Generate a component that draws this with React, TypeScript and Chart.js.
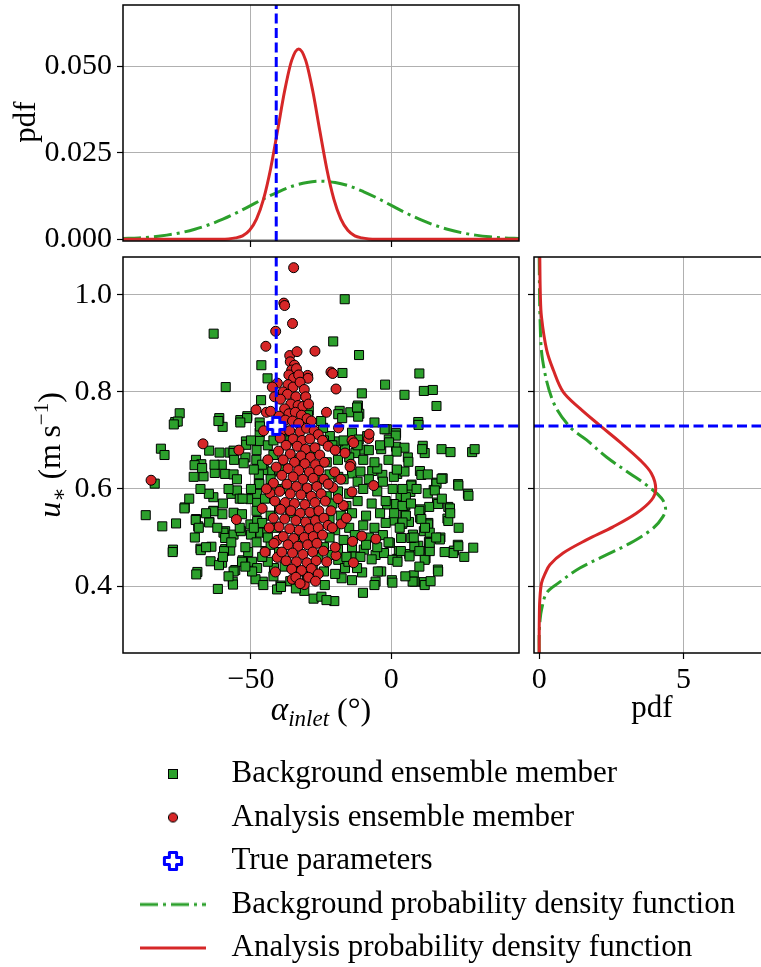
import React, { useEffect, useRef } from 'react';
import { Chart, registerables } from 'chart.js';
Chart.register(...registerables);

const FONT = '"Liberation Serif", "DejaVu Serif", serif';
const GREEN = '#2ca02c';
const RED = '#d62728';
const BLUE = '#0000ff';
const GRID = '#b0b0b0';

// ---------- axis ticks / ranges ----------
const alphaTicks = [-50, 0];
const ustarTicks = [0.4, 0.6, 0.8, 1.0];
const pdfAlphaTicks = [0, 0.025, 0.05];
const pdfUstarTicks = [0, 5];
const alphaRange = [-95.6, 45.5];
const ustarRange = [0.262, 1.078];
const pdfAlphaRange = [-0.0005, 0.0677];
const pdfUstarRange = [-0.18, 8.0];

// ---------- true parameters ----------
const trueAlpha = -41;
const trueUstar = 0.73;

// ---------- marginal pdf of alpha_inlet ----------
const bgAlphaGrid = [-95.6, -90, -85, -80, -75, -70, -65, -60, -55, -50, -45, -40, -35, -30, -25, -20, -15, -10, -5, 0, 5, 10, 15, 20, 25, 30, 35, 40, 45.5];
const bgPdfAlpha = [0.0002, 0.0004, 0.0007, 0.0012, 0.0019, 0.0029, 0.0042, 0.0058, 0.0077, 0.0098, 0.0119, 0.0138, 0.0154, 0.0164, 0.0168, 0.0164, 0.0154, 0.0138, 0.0119, 0.0098, 0.0077, 0.0058, 0.0042, 0.0029, 0.0019, 0.0012, 0.0007, 0.0004, 0.0002];
const anAlphaGrid = [-95.6, -75, -63, -60.5, -58, -55.5, -53, -50.5, -48, -45.5, -43, -40.5, -38, -35.5, -33, -30.5, -28, -25.5, -23, -20.5, -18, -15.5, -13, -10.5, -8, -5.5, -3, 15, 45.5];
const anPdfAlpha = [0, 0, 0, 0, 0.0001, 0.0004, 0.001, 0.0026, 0.0059, 0.0117, 0.0204, 0.0315, 0.0429, 0.0517, 0.055, 0.0517, 0.0429, 0.0315, 0.0204, 0.0117, 0.0059, 0.0026, 0.001, 0.0004, 0.0001, 0, 0, 0, 0];

// ---------- marginal pdf of u_* ----------
const bgUstarGrid = [0.262, 0.3, 0.33, 0.351, 0.386, 0.406, 0.437, 0.461, 0.488, 0.519, 0.543, 0.56, 0.581, 0.608, 0.632, 0.666, 0.701, 0.728, 0.779, 0.865, 0.95, 1.078];
const bgPdfUstar = [0, 0, 0.03, 0.08, 0.26, 0.66, 1.41, 2.22, 3.14, 3.95, 4.29, 4.38, 4.24, 3.72, 3.14, 2.33, 1.64, 1.06, 0.49, 0.12, 0.03, 0];
const anUstarGrid = [0.262, 0.3, 0.337, 0.37, 0.406, 0.425, 0.444, 0.468, 0.495, 0.522, 0.55, 0.577, 0.6, 0.632, 0.66, 0.697, 0.731, 0.766, 0.8, 0.845, 0.886, 0.954, 1.0, 1.078];
const anPdfUstar = [0, 0, 0.005, 0.02, 0.08, 0.2, 0.37, 0.83, 1.64, 2.56, 3.37, 3.89, 4.04, 3.89, 3.49, 2.79, 2.1, 1.41, 0.83, 0.49, 0.26, 0.08, 0.04, 0.02];

// ---------- ensemble members [alpha_inlet, u_*] ----------
const backgroundMembers: [number, number][] = [
  [-63.3, 0.92], [-59.0, 0.81], [-75.4, 0.756], [-77.0, 0.738], [-76.1, 0.739], [-61.3, 0.746], [-60.1, 0.728], [-53.8, 0.742], [-51.3, 0.75], [-51.8, 0.698],
  [-82.1, 0.683], [-80.8, 0.67], [-64.9, 0.679], [-61.2, 0.675], [-57.6, 0.675], [-56.2, 0.679], [-69.6, 0.66], [-52.0, 0.665], [-84.3, 0.611], [-67.7, 0.651],
  [-70.4, 0.625], [-66.9, 0.626], [-62.9, 0.633], [-59.2, 0.631], [-60.4, 0.65], [-87.5, 0.546], [-81.6, 0.523], [-76.7, 0.529], [-73.6, 0.562], [-69.6, 0.538],
  [-68.8, 0.523], [-64.8, 0.532], [-63.4, 0.583], [-63.4, 0.555], [-60.2, 0.548], [-77.8, 0.475], [-68.0, 0.477], [-64.1, 0.481], [-64.4, 0.451], [-60.3, 0.448],
  [-61.4, 0.443], [-69.1, 0.429], [-59.2, 0.476], [-57.4, 0.473], [-53.0, 0.453], [-55.6, 0.433], [-56.5, 0.409], [-61.8, 0.394], [-59.2, 0.513], [-58.2, 0.502],
  [-57.0, 0.59], [-55.0, 0.597], [-54.0, 0.58], [-16.6, 0.991], [-20.7, 0.904], [-11.5, 0.876], [-46.3, 0.855], [-44.1, 0.828], [-2.2, 0.815], [-10.5, 0.797],
  [-17.4, 0.839], [-46.4, 0.783], [-29.4, 0.761], [-18.4, 0.761], [-14.6, 0.758], [-11.9, 0.772], [-11.4, 0.755], [-46.9, 0.737], [-46.9, 0.716], [-46.9, 0.699],
  [-6.0, 0.737], [-3.6, 0.682], [-1.6, 0.723], [10.0, 0.838], [4.7, 0.794], [11.6, 0.802], [14.8, 0.804], [16.1, 0.771], [9.6, 0.738], [1.7, 0.715],
  [-0.9, 0.702], [1.7, 0.687], [4.7, 0.685], [11.2, 0.689], [11.9, 0.674], [17.9, 0.682], [21.1, 0.676], [28.8, 0.676], [29.7, 0.682], [5.9, 0.665],
  [2.1, 0.631], [4.7, 0.636], [0.9, 0.625], [10.2, 0.637], [18.3, 0.622], [16.0, 0.613], [15.1, 0.598], [13.0, 0.591], [23.8, 0.61], [27.3, 0.59],
  [7.2, 0.609], [6.8, 0.594], [3.3, 0.585], [5.0, 0.566], [0.9, 0.569], [-1.5, 0.568], [16.3, 0.572], [20.3, 0.563], [13.5, 0.563], [10.4, 0.558],
  [4.7, 0.547], [10.2, 0.541], [20.0, 0.539], [0.9, 0.535], [3.9, 0.528], [6.3, 0.532], [13.2, 0.53], [11.6, 0.513], [7.7, 0.506], [3.5, 0.499],
  [17.5, 0.5], [-0.5, 0.489], [13.4, 0.491], [9.6, 0.483], [13.5, 0.477], [23.7, 0.485], [22.3, 0.473], [29.2, 0.479], [2.7, 0.472], [6.4, 0.466],
  [2.1, 0.456], [12.2, 0.457], [16.6, 0.434], [0.2, 0.412], [8.0, 0.422], [8.3, 0.409], [11.6, 0.408], [-27.7, 0.374], [-24.9, 0.378], [-20.3, 0.369],
  [-10.1, 0.386], [-5.6, 0.409], [-39.5, 0.401], [-40.7, 0.393], [-45.8, 0.409], [-51.4, 0.746], [-53.8, 0.737], [-61.6, 0.74], [-77.5, 0.733], [-46.8, 0.729],
  [-51.7, 0.691], [-18.9, 0.754], [-17.5, 0.746], [-11.8, 0.749], [-12.2, 0.768], [-29.7, 0.752], [-2.4, 0.723], [1.6, 0.71], [-0.8, 0.696], [9.7, 0.732],
  [11.0, 0.682], [6.1, 0.656], [1.9, 0.677], [10.7, 0.629], [-3.2, 0.629], [-6.8, 0.637], [-5.0, 0.642], [-14.0, 0.716], [-11.6, 0.702], [-8.6, 0.709],
  [-9.8, 0.681], [-12.8, 0.674], [-16.5, 0.684], [-18.9, 0.698], [-21.9, 0.709], [-14.0, 0.632], [-11.0, 0.636], [-18.9, 0.625], [-70.1, 0.649], [-67.4, 0.643],
  [-56.2, 0.674], [-52.6, 0.653], [-56.2, 0.63], [-48.1, 0.66], [-45.4, 0.639], [-42.4, 0.636], [-24.3, 0.726], [-47.2, 0.63], [-50.2, 0.579], [-47.8, 0.572],
  [-47.2, 0.611], [-47.8, 0.59], [-73.7, 0.56], [-63.4, 0.554], [-56.2, 0.551], [-53.2, 0.548], [-69.7, 0.536], [-68.6, 0.52], [-64.9, 0.531], [-59.8, 0.51],
  [-59.2, 0.499], [-56.2, 0.506], [-53.6, 0.513], [-50.2, 0.527], [-50.0, 0.506], [-46.6, 0.51], [-47.8, 0.534], [-77.9, 0.47], [-67.9, 0.474], [-59.6, 0.472],
  [-53.2, 0.45], [-56.2, 0.43], [-69.5, 0.424], [-56.4, 0.403], [-49.6, 0.45], [-47.8, 0.437], [-48.4, 0.414], [-45.6, 0.402], [-49.6, 0.43], [-44.8, 0.472],
  [-44.2, 0.51], [-43.0, 0.485], [-41.8, 0.437], [-39.3, 0.398], [-23.1, 0.371], [-23.7, 0.402], [-17.7, 0.416], [-14.0, 0.412], [-10.4, 0.428], [-12.2, 0.437],
  [-6.0, 0.402], [-3.6, 0.43], [-4.8, 0.43], [0.4, 0.407], [-21.3, 0.464], [-18.9, 0.454], [-16.5, 0.437], [-15.3, 0.45], [-12.8, 0.461], [-9.8, 0.475],
  [-5.6, 0.464], [-2.6, 0.468], [0.4, 0.454], [2.2, 0.45], [3.4, 0.472], [6.5, 0.461], [8.2, 0.482], [10.0, 0.472], [11.9, 0.454], [16.7, 0.43],
  [13.7, 0.472], [22.1, 0.468], [23.9, 0.482], [7.6, 0.409], [11.9, 0.402], [17.3, 0.496], [20.3, 0.534], [20.9, 0.56], [23.9, 0.607], [27.5, 0.586],
  [16.1, 0.611], [17.9, 0.621], [15.5, 0.597], [16.7, 0.569], [13.1, 0.527], [13.7, 0.489], [7.1, 0.607], [5.2, 0.583], [4.0, 0.565], [5.2, 0.545],
  [4.0, 0.531], [7.1, 0.499], [10.0, 0.555], [10.7, 0.538], [13.7, 0.51],
  [-24, 0.70], [-21, 0.69], [-17, 0.70], [-12, 0.69], [-8, 0.68], [-4, 0.69], [-1, 0.66], [-6, 0.655], [-10, 0.66], [-15, 0.665],
  [-19, 0.66], [-23, 0.655], [-22, 0.63], [-17, 0.62], [-12, 0.615], [-8, 0.62], [-3, 0.615], [0.5, 0.6], [-5, 0.595], [-10, 0.6],
  [-15, 0.59], [-19, 0.595], [-23, 0.585], [-21, 0.57], [-16, 0.565], [-12, 0.575], [-7, 0.57], [-2, 0.575], [-4, 0.55], [-9, 0.545],
  [-14, 0.55], [-18, 0.545], [-22, 0.54], [-20, 0.515], [-15, 0.52], [-10, 0.525], [-6, 0.52], [-2, 0.53], [-3, 0.505], [-8, 0.5],
  [-13, 0.505], [-17, 0.495], [-22, 0.5], [-24, 0.48], [-19, 0.475], [-14, 0.48], [-9, 0.485], [-5, 0.48], [-1, 0.49], [-11, 0.46],
  [-7, 0.455], [-16, 0.46], [-26, 0.46], [-28, 0.44], [-24, 0.43], [-20, 0.425], [-30, 0.42], [-33, 0.43], [-36, 0.41], [-38, 0.44],
  [-42, 0.42], [-44, 0.45], [-31, 0.39], [-34, 0.395], [-50, 0.70], [-48, 0.68], [-44, 0.69], [-42, 0.67], [-46, 0.65], [-49, 0.64],
  [-43, 0.62], [-47, 0.61], [-50, 0.60], [-45, 0.58], [-48, 0.555], [-43, 0.545], [-46, 0.53], [-49, 0.52], [-44, 0.50], [-48, 0.49],
  [-51, 0.47], [-46, 0.46], [-52, 0.44], [-40, 0.47], [-41, 0.52], [-40, 0.56], [-41, 0.60], [-40, 0.64], [-42, 0.70], [-38, 0.72],
  [-36, 0.70], [-34, 0.66], [-30, 0.60], [-28, 0.55], [-32, 0.50], [-36, 0.55], [-38, 0.60], [-26, 0.62], [-28, 0.68], [-30, 0.73],
  [-25, 0.74], [2, 0.64], [4, 0.60], [7, 0.57], [1, 0.55], [3, 0.52], [8, 0.50], [12, 0.52], [9, 0.60], [13, 0.63],
  [18, 0.58], [21, 0.55], [16, 0.50], [19, 0.47], [10, 0.44], [5, 0.42], [14, 0.41], [24, 0.52], [26, 0.46], [-55, 0.62],
  [-58, 0.60], [-60, 0.57], [-65, 0.59], [-66, 0.55], [-62, 0.52], [-57, 0.49], [-60, 0.46], [-66, 0.48], [-70, 0.50], [-72, 0.58],
  [-68, 0.60], [-63, 0.65], [-56, 0.66], [-53, 0.58], [-54, 0.52], [-52, 0.48], [-58, 0.42],
];

const analysisMembers: [number, number][] = [
  [-34.8, 1.056], [-38.3, 0.983], [-38.0, 0.978], [-35.2, 0.941], [-41.2, 0.925], [-44.7, 0.894], [-36.2, 0.875], [-33.6, 0.883], [-27.2, 0.884], [-29.8, 0.834],
  [-21.5, 0.841], [-20.9, 0.838], [-19.7, 0.806], [-48.2, 0.763], [-44.5, 0.758], [-23.1, 0.758], [-18.8, 0.726], [-14.0, 0.7], [-8.1, 0.704], [-7.9, 0.713],
  [-85.6, 0.618], [-67.1, 0.693], [-54.3, 0.68], [-55.2, 0.537], [-41.3, 0.429], [-35.3, 0.414], [-31.0, 0.403], [-13.5, 0.448], [-19.7, 0.463], [-10.5, 0.503],
  [-5.5, 0.497], [-13.8, 0.492], [-17.8, 0.528], [-17.1, 0.566], [-21.5, 0.555], [-14.0, 0.594], [-20.8, 0.603], [-6.3, 0.607], [-14.4, 0.651], [-20.2, 0.635],
  [-43.2, 0.591], [-40.7, 0.494], [-40.6, 0.459], [-29.7, 0.828], [-40.6, 0.818], [-42.4, 0.81], [-41.6, 0.79], [-13.4, 0.695], [-16.5, 0.674], [-14.7, 0.646],
  [-36, 0.862], [-34.5, 0.855], [-35.5, 0.845], [-33.8, 0.848], [-36.5, 0.835], [-34.8, 0.828], [-33, 0.835], [-36.8, 0.815], [-35, 0.81], [-32.5, 0.82],
  [-38.5, 0.8], [-31, 0.805], [-37, 0.795], [-34, 0.79], [-30.5, 0.79], [-39.5, 0.785], [-35.8, 0.775], [-33.2, 0.772], [-31.5, 0.77], [-38, 0.765],
  [-29.5, 0.775], [-36.5, 0.755], [-34.2, 0.758], [-32, 0.752], [-40, 0.75], [-30, 0.745], [-37.8, 0.742], [-35.2, 0.74], [-33, 0.735], [-28.5, 0.74],
  [-38.5, 0.722], [-36.2, 0.72], [-32.5, 0.718], [-30.2, 0.725], [-27.5, 0.72], [-26, 0.712], [-39.6, 0.705], [-35, 0.703], [-31.8, 0.7], [-29, 0.703],
  [-24.5, 0.7], [-37.5, 0.69], [-33.5, 0.688], [-30.5, 0.682], [-27.2, 0.685], [-22.5, 0.688], [-40.2, 0.678], [-36, 0.672], [-32.2, 0.668], [-28.8, 0.665],
  [-25.5, 0.67], [-38.5, 0.66], [-34.5, 0.655], [-30.8, 0.652], [-27, 0.65], [-23.8, 0.655], [-41, 0.645], [-36.8, 0.642], [-33, 0.638], [-29.2, 0.635],
  [-25.8, 0.638], [-39, 0.628], [-35, 0.625], [-31.5, 0.62], [-27.8, 0.622], [-24, 0.62], [-42, 0.612], [-37.2, 0.61], [-33.8, 0.605], [-30, 0.602],
  [-26.5, 0.605], [-22.5, 0.61], [-39.8, 0.595], [-36, 0.59], [-32.2, 0.588], [-28.5, 0.585], [-25, 0.59], [-41.5, 0.575], [-37.8, 0.572], [-34.5, 0.57],
  [-30.8, 0.568], [-27.2, 0.572], [-23.5, 0.575], [-39.5, 0.558], [-35.8, 0.555], [-32.5, 0.55], [-29, 0.552], [-25.8, 0.555], [-42, 0.54], [-38, 0.538],
  [-34, 0.535], [-30.5, 0.532], [-27, 0.535], [-24, 0.54], [-40, 0.522], [-36.2, 0.518], [-32.8, 0.515], [-29.2, 0.518], [-26, 0.52], [-22.5, 0.525],
  [-38.5, 0.502], [-34.8, 0.498], [-31, 0.5], [-27.8, 0.502], [-24.5, 0.505], [-41.8, 0.488], [-36.8, 0.485], [-33.2, 0.482], [-29.8, 0.485], [-26.5, 0.488],
  [-39, 0.47], [-35.2, 0.468], [-31.5, 0.465], [-28, 0.47], [-24.2, 0.472], [-37.5, 0.452], [-33.8, 0.45], [-30, 0.448], [-26.8, 0.452], [-35.5, 0.435],
  [-32, 0.432], [-28.5, 0.436], [-26, 0.425], [-34, 0.418], [-29.5, 0.418], [-27, 0.41], [-32.5, 0.405], [-43, 0.76], [-45.5, 0.72], [-44, 0.66],
  [-44.5, 0.6], [-46, 0.56], [-43.5, 0.52], [-45, 0.47], [-20, 0.68], [-18, 0.62], [-19, 0.58], [-21, 0.52], [-20, 0.48], [-16, 0.54], [-23, 0.45],
];

const legendLabels = [
  'Background ensemble member',
  'Analysis ensemble member',
  'True parameters',
  'Background probability density function',
  'Analysis probability density function',
];

// ---------- helpers ----------
type Seg = { t: string; it?: boolean; size?: number; dy?: number };
type RichTitle = { x: number; y: number; rotate?: boolean; segs: Seg[] };

function segFont(s: Seg) {
  return `${s.it ? 'italic ' : ''}${s.size || 30}px ${FONT}`;
}

function richTitles(items: RichTitle[]) {
  return {
    id: 'richTitles',
    afterDraw(chart: any) {
      const ctx = chart.ctx as CanvasRenderingContext2D;
      items.forEach((it) => {
        ctx.save();
        ctx.translate(it.x, it.y);
        if (it.rotate) ctx.rotate(-Math.PI / 2);
        ctx.fillStyle = '#000';
        ctx.textBaseline = 'alphabetic';
        ctx.textAlign = 'left';
        let total = 0;
        it.segs.forEach((s) => { ctx.font = segFont(s); total += ctx.measureText(s.t).width; });
        let cx = -total / 2;
        it.segs.forEach((s) => {
          ctx.font = segFont(s);
          ctx.fillText(s.t, cx, s.dy || 0);
          cx += ctx.measureText(s.t).width;
        });
        ctx.restore();
      });
    },
  };
}

const framePlugin = {
  id: 'frame',
  afterDraw(chart: any) {
    const { ctx, chartArea: a } = chart;
    ctx.save();
    ctx.strokeStyle = '#000';
    ctx.lineWidth = 1.5;
    ctx.strokeRect(a.left, a.top, a.right - a.left, a.bottom - a.top);
    ctx.restore();
  },
};

function makeScale(range: number[], tickVals: number[], fmt: ((v: number) => string) | null, size: number, horizontal: boolean) {
  return {
    type: 'linear',
    min: range[0],
    max: range[1],
    afterBuildTicks: (s: any) => { s.ticks = tickVals.map((v) => ({ value: v })); },
    afterFit: (s: any) => {
      if (horizontal) s.height = size; else s.width = size;
      s.paddingTop = 0; s.paddingBottom = 0; s.paddingLeft = 0; s.paddingRight = 0;
    },
    ticks: {
      display: !!fmt,
      callback: (v: any) => (fmt ? fmt(Number(v)) : ''),
      font: { family: FONT, size: 30 },
      color: '#000',
      padding: horizontal ? 3 : 5,
      maxRotation: 0,
      minRotation: 0,
      autoSkip: false,
    },
    grid: { color: GRID, lineWidth: 1, drawTicks: true, tickLength: 6, tickColor: '#000', tickWidth: 1.2 },
    border: { display: false },
  };
}

const fmtSigned = (v: number) => (v < 0 ? '\u2212' + Math.abs(v) : String(v));

function makeCanvas(w: number, h: number) {
  const c = document.createElement('canvas');
  c.width = w; c.height = h;
  return c;
}
function squareIcon() {
  const c = makeCanvas(12, 12); const g = c.getContext('2d')!;
  g.fillStyle = GREEN; g.strokeStyle = '#000'; g.lineWidth = 1;
  g.fillRect(1.5, 1.5, 9, 9); g.strokeRect(1.5, 1.5, 9, 9);
  return c;
}
function circleIcon() {
  const c = makeCanvas(12, 12); const g = c.getContext('2d')!;
  g.fillStyle = RED; g.strokeStyle = '#000'; g.lineWidth = 1;
  g.beginPath(); g.arc(6, 6, 4.6, 0, Math.PI * 2); g.fill(); g.stroke();
  return c;
}
function plusIcon() {
  const c = makeCanvas(24, 24); const g = c.getContext('2d')!;
  const m = 12, t = 3.6, L = 8.6;
  const pts = [[m - t, m - L], [m + t, m - L], [m + t, m - t], [m + L, m - t], [m + L, m + t], [m + t, m + t], [m + t, m + L], [m - t, m + L], [m - t, m + t], [m - L, m + t], [m - L, m - t], [m - t, m - t]];
  g.beginPath(); pts.forEach((p, i) => (i ? g.lineTo(p[0], p[1]) : g.moveTo(p[0], p[1]))); g.closePath();
  g.fillStyle = '#fff'; g.fill(); g.strokeStyle = BLUE; g.lineWidth = 3; g.lineJoin = 'round'; g.stroke();
  return c;
}
function lineIcon(color: string, dash: number[]) {
  const c = makeCanvas(66, 6); const g = c.getContext('2d')!;
  g.strokeStyle = color; g.lineWidth = 3; g.setLineDash(dash);
  g.beginPath(); g.moveTo(0, 3); g.lineTo(66, 3); g.stroke();
  return c;
}

const DASHDOT = [18, 5, 3, 5];
const DASHED = [10, 4.5];

const baseOpts = (padding: any) => ({
  responsive: false,
  animation: false as const,
  events: [] as any[],
  layout: { padding, autoPadding: false },
  plugins: { legend: { display: false }, tooltip: { enabled: false } },
});

export default function App() {
  const topRef = useRef<HTMLCanvasElement>(null);
  const mainRef = useRef<HTMLCanvasElement>(null);
  const rightRef = useRef<HTMLCanvasElement>(null);
  const legRef = useRef<HTMLCanvasElement>(null);

  useEffect(() => {
    document.body.style.margin = '0';
    const plus = plusIcon();

    const top = new Chart(topRef.current!, {
      type: 'scatter',
      data: {
        datasets: [
          { data: [{ x: trueAlpha, y: pdfAlphaRange[0] }, { x: trueAlpha, y: pdfAlphaRange[1] }], showLine: true, borderColor: BLUE, borderWidth: 3, borderDash: DASHED, pointRadius: 0, order: 0 },
          { data: anAlphaGrid.map((x, i) => ({ x, y: anPdfAlpha[i] })), showLine: true, borderColor: RED, borderWidth: 3, pointRadius: 0, cubicInterpolationMode: 'monotone', order: 1 },
          { data: bgAlphaGrid.map((x, i) => ({ x, y: bgPdfAlpha[i] })), showLine: true, borderColor: GREEN, borderWidth: 3, borderDash: DASHDOT, pointRadius: 0, cubicInterpolationMode: 'monotone', order: 2 },
        ],
      } as any,
      options: {
        ...baseOpts({ top: 5, right: 11, left: 0, bottom: 0 }),
        scales: {
          x: makeScale(alphaRange, alphaTicks, null, 11, true),
          y: makeScale(pdfAlphaRange, pdfAlphaTicks, (v) => v.toFixed(3), 123, false),
        },
      } as any,
      plugins: [framePlugin, richTitles([{ x: 35, y: 122, rotate: true, segs: [{ t: 'pdf', size: 31 }] }])],
    });

    const main = new Chart(mainRef.current!, {
      type: 'scatter',
      data: {
        datasets: [
          { label: legendLabels[2], data: [{ x: trueAlpha, y: trueUstar }], pointStyle: plus, pointRadius: 10, order: 0 },
          { data: [{ x: trueAlpha, y: trueUstar }, { x: trueAlpha, y: ustarRange[1] }], showLine: true, borderColor: BLUE, borderWidth: 3, borderDash: DASHED, pointRadius: 0, order: 1 },
          { data: [{ x: trueAlpha, y: trueUstar }, { x: alphaRange[1], y: trueUstar }], showLine: true, borderColor: BLUE, borderWidth: 3, borderDash: DASHED, pointRadius: 0, order: 1 },
          { label: legendLabels[1], data: analysisMembers.map(([x, y]) => ({ x, y })), pointStyle: 'circle', pointRadius: 5, backgroundColor: RED, borderColor: '#000', borderWidth: 1, order: 2 },
          { label: legendLabels[0], data: backgroundMembers.map(([x, y]) => ({ x, y })), pointStyle: 'rect', pointRadius: 6.4, backgroundColor: GREEN, borderColor: '#000', borderWidth: 1, order: 3 },
        ],
      } as any,
      options: {
        ...baseOpts({ top: 7, right: 11, left: 0, bottom: 0 }),
        scales: {
          x: makeScale(alphaRange, alphaTicks, fmtSigned, 87, true),
          y: makeScale(ustarRange, ustarTicks, (v) => v.toFixed(1), 123, false),
        },
      } as any,
      plugins: [framePlugin, richTitles([
        { x: 60, y: 205, rotate: true, segs: [{ t: 'u', it: true, size: 32 }, { t: '\u2217', size: 21, dy: 6 }, { t: ' (m\u2009s', size: 32 }, { t: '\u22121', size: 21, dy: -12 }, { t: ')', size: 32 }] },
        { x: 321, y: 470, segs: [{ t: '\u03b1', it: true, size: 33 }, { t: 'inlet', it: true, size: 23, dy: 6 }, { t: ' (\u00b0)', size: 32 }] },
      ])],
    });

    const right = new Chart(rightRef.current!, {
      type: 'scatter',
      data: {
        datasets: [
          { data: [{ x: pdfUstarRange[0], y: trueUstar }, { x: pdfUstarRange[1], y: trueUstar }], showLine: true, borderColor: BLUE, borderWidth: 3, borderDash: DASHED, pointRadius: 0, order: 0 },
          { data: anUstarGrid.map((y, i) => ({ x: anPdfUstar[i], y })), showLine: true, borderColor: RED, borderWidth: 3, pointRadius: 0, tension: 0.35, order: 1 },
          { data: bgUstarGrid.map((y, i) => ({ x: bgPdfUstar[i], y })), showLine: true, borderColor: GREEN, borderWidth: 3, borderDash: DASHDOT, pointRadius: 0, tension: 0.35, order: 2 },
        ],
      } as any,
      options: {
        ...baseOpts({ top: 7, right: 10, left: 0, bottom: 0 }),
        scales: {
          x: makeScale(pdfUstarRange, pdfUstarTicks, (v) => String(v), 87, true),
          y: makeScale(ustarRange, ustarTicks, null, 14, false),
        },
      } as any,
      plugins: [framePlugin, richTitles([{ x: 132, y: 467, segs: [{ t: 'pdf', size: 31 }] }])],
    });

    const icons = [squareIcon(), circleIcon(), plus, lineIcon(GREEN, DASHDOT), lineIcon(RED, [])];
    const legend = new Chart(legRef.current!, {
      type: 'scatter',
      data: { datasets: legendLabels.map((label) => ({ label, data: [] })) },
      options: {
        ...baseOpts({ top: 6, left: 117.5, right: 0, bottom: 0 }),
        scales: { x: { display: false }, y: { display: false } },
        plugins: {
          tooltip: { enabled: false },
          legend: {
            display: true,
            position: 'top',
            align: 'start',
            maxHeight: 1000,
            labels: {
              usePointStyle: true,
              pointStyleWidth: 86,
              padding: 12.5,
              color: '#000',
              font: { family: FONT, size: 31 },
              generateLabels: () => legendLabels.map((text, i) => ({
                text, pointStyle: icons[i], fillStyle: 'rgba(0,0,0,0)', strokeStyle: 'rgba(0,0,0,0)', lineWidth: 0, hidden: false, datasetIndex: i, fontColor: '#000',
              })),
            },
          },
        },
      } as any,
    });

    return () => { top.destroy(); main.destroy(); right.destroy(); legend.destroy(); };
  }, []);

  return (
    <div style={{ position: 'relative', width: 761, height: 967, overflow: 'hidden', background: '#fff' }}>
      <canvas ref={topRef} width={530} height={252} style={{ position: 'absolute', left: 0, top: 0 }} />
      <canvas ref={mainRef} width={530} height={490} style={{ position: 'absolute', left: 0, top: 250 }} />
      <canvas ref={rightRef} width={260} height={490} style={{ position: 'absolute', left: 520, top: 250 }} />
      <canvas ref={legRef} width={761} height={300} style={{ position: 'absolute', left: 0, top: 740 }} />
    </div>
  );
}
